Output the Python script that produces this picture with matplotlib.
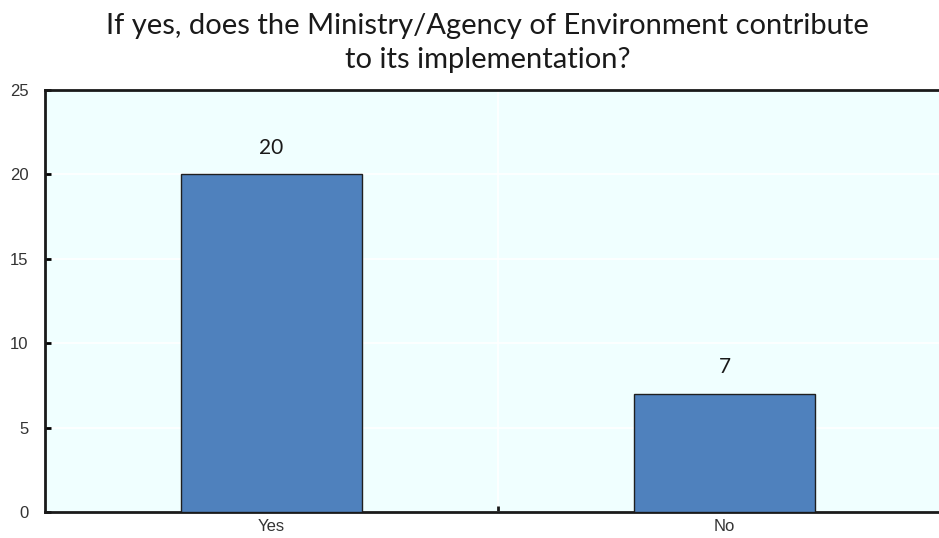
import matplotlib.pyplot as plt

categories = ["Yes", "No"]
values = [20, 7]
y_ticks = [0, 5, 10, 15, 20, 25]
title = ("If yes, does the Ministry/Agency of Environment contribute\n"
         "to its implementation?")

fig = plt.figure(figsize=(9.39, 5.38), dpi=100)
ax = fig.add_axes([0.0479, 0.0483, 0.965, 0.7844])
ax.set_facecolor("#F0FFFF")

x = list(range(len(categories)))
ax.bar(x, values, width=0.4, color="#4F81BD", edgecolor="#1F1F1F",
       linewidth=1.0, zorder=3)

for xi, v in zip(x, values):
    ax.text(xi, v + 1.0, str(v), ha="center", va="bottom", fontsize=15,
            family="Lato", color="#1A1A1A")

ax.set_xlim(-0.5, 1.5)
ax.set_ylim(0, 25)
ax.set_yticks(y_ticks)
ax.set_yticklabels([str(t) for t in y_ticks], family="Liberation Sans",
                   fontsize=12, color="#333333")
ax.yaxis.grid(True, color="white", linewidth=1.2, zorder=1)
ax.axvline(0.5, color="white", linewidth=1.2, zorder=0.4)
ax.set_axisbelow(True)

ax.set_xticks(x)
ax.set_xticklabels(categories, family="Liberation Sans", fontsize=12,
                   color="#333333")
ax.tick_params(axis="x", length=0, pad=5)
ax.tick_params(axis="y", direction="in", length=4, width=2, pad=12)

# divider tick between categories
ax.set_xticks([0.5], minor=True)
ax.tick_params(axis="x", which="minor", direction="in", length=4, width=2,
               color="#1A1A1A")

for side in ["left", "bottom", "top"]:
    ax.spines[side].set_linewidth(2)
    ax.spines[side].set_color("#1A1A1A")
ax.spines["right"].set_visible(False)

fig.suptitle(title, x=0.519, y=0.975, fontsize=21, family="Lato",
             color="#1A1A1A", linespacing=1.35)

fig.savefig("out.png", dpi=100)
